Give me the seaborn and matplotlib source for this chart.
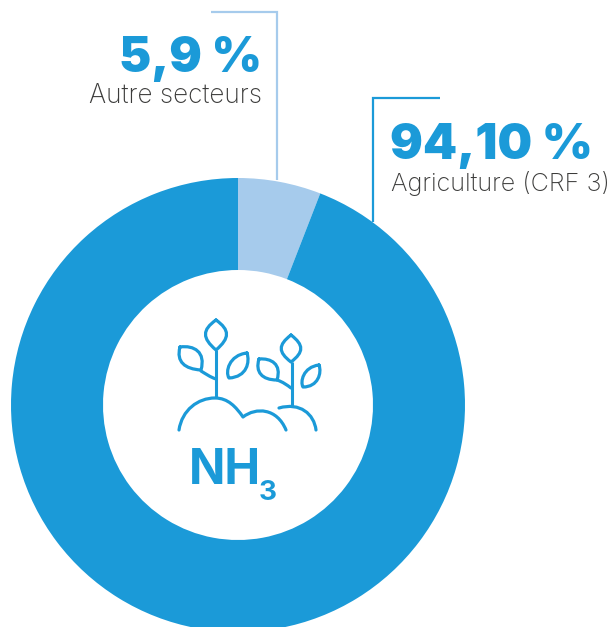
import matplotlib
matplotlib.use('Agg')
import matplotlib.pyplot as plt
from matplotlib.path import Path
from matplotlib.patches import PathPatch
import seaborn as sns

labels = ['Autre secteurs', 'Agriculture (CRF 3)']
values = [5.9, 94.1]
value_labels = ['5,9 %', '94,10 %']

BLUE = '#1b9ad8'
LIGHT = '#a6cbec'
DARK_TEXT = '#3c3c3b'
H = 627

sns.set_theme(style='white')
plt.rcParams['font.family'] = ['Inter', 'DejaVu Sans']
colors = sns.color_palette([LIGHT, BLUE])

fig = plt.figure(figsize=(6.14, 6.27), dpi=100)
ax = fig.add_axes([0, 0, 1, 1])

ax.pie(values, colors=colors, startangle=90, counterclock=False,
       center=(238, H - 405), radius=227, frame=True,
       wedgeprops=dict(width=92, linewidth=0))
ax.set_xlim(0, 614)
ax.set_ylim(0, H)
ax.set_aspect('equal')
ax.axis('off')


def line(xs, ys, color=BLUE, lw=1.5, z=1):
    ax.plot(xs, [H - y for y in ys], color=color, lw=lw, zorder=z,
            solid_capstyle='butt', solid_joinstyle='miter')


# leader lines
line([211, 277, 277], [12, 12, 180], color=LIGHT, lw=1.6, z=0)
line([440, 373, 373], [98, 98, 222], lw=1.6, z=0)

# labels
ax.text(262, H - 72, value_labels[0], ha='right', va='baseline', fontsize=34.8,
        fontweight='black', color=BLUE)
ax.text(262, H - 103, labels[0], ha='right', va='baseline', fontsize=18.8,
        fontweight='light', color=DARK_TEXT)
ax.text(390, H - 159, value_labels[1], ha='left', va='baseline', fontsize=35.2,
        fontweight='black', color=BLUE)
ax.text(391, H - 191, labels[1], ha='left', va='baseline', fontsize=18.1,
        fontweight='light', color=DARK_TEXT)

# center text
ax.text(189, H - 484, 'NH', ha='left', va='baseline', fontsize=34.5,
        fontweight='bold', color=BLUE)
ax.text(259, H - 500, '3', ha='left', va='baseline', fontsize=20,
        fontweight='bold', color=BLUE)


def curve(pts, lw=2.3):
    # pts: start point then cubic bezier triples, picture pixels
    codes = [Path.MOVETO] + [Path.CURVE4] * (len(pts) - 1)
    verts = [(x, H - y) for x, y in pts]
    ax.add_patch(PathPatch(Path(verts, codes), fill=False, edgecolor=BLUE,
                           lw=lw, capstyle='round', joinstyle='round', zorder=3))


def leaf(x0, y0, x1, y1, c0, c1):
    # closed leaf between two tips, c0 and c1 are control point pairs
    curve([(x0, y0), c0[0], c0[1], (x1, y1), c1[0], c1[1], (x0, y0)])


# left plant
leaf(216, 320, 216, 350, ((202, 330), (202, 338)), ((230, 338), (230, 330)))
leaf(180, 347, 201, 370, ((176, 362), (185, 369)), ((206, 352), (194, 345)))
leaf(247, 353, 229, 378, ((229, 355), (225, 372)), ((247, 377), (250, 362)))
line([216, 216], [350, 398], lw=2.2)
curve([(216, 379), (210, 377), (206, 374), (201, 371)])

# right plant
leaf(291, 335, 291, 362, ((278, 345), (278, 352)), ((304, 352), (304, 345)))
leaf(259, 359, 277, 380, ((255, 372), (262, 380)), ((282, 364), (271, 358)))
leaf(319, 365, 303, 387, ((303, 367), (300, 382)), ((318, 387), (322, 373)))
line([291.5, 291.5], [362, 406], lw=2.2)
curve([(277, 380), (283, 382), (287, 385), (291, 388)])

# hills
curve([(179, 430), (182, 410), (198, 398), (215, 398),
       (228, 398), (236, 407), (243, 417),
       (256, 407), (277, 408), (286, 430)])
curve([(279, 408), (300, 402), (314, 414), (316, 430)])

fig.savefig('out.png', dpi=100, facecolor='white')
